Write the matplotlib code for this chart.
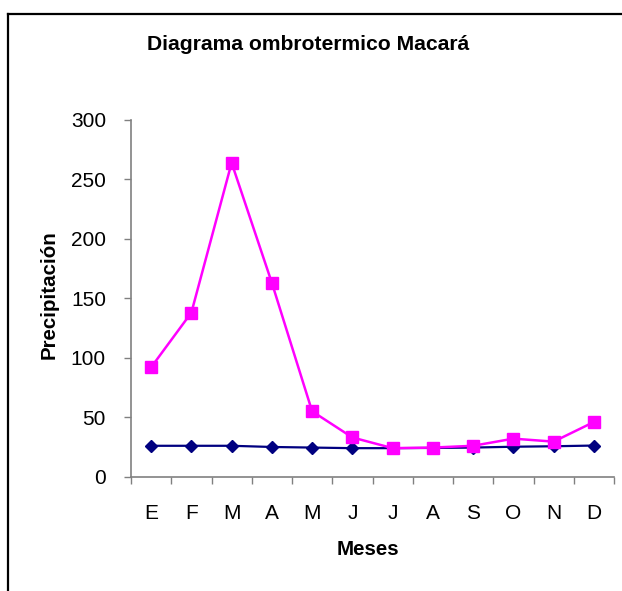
import matplotlib
matplotlib.use("Agg")
import matplotlib.pyplot as plt
from matplotlib.lines import Line2D
import numpy as np

plt.rcParams["font.family"] = ["Liberation Sans", "DejaVu Sans"]

MESES = ["E", "F", "M", "A", "M", "J", "J", "A", "S", "O", "N", "D"]
PRECIPITACION = [92, 138, 264, 163, 55, 33, 24, 24.5, 26, 32, 29.5, 46]
TEMPERATURA = [26, 26, 26, 25, 24.5, 24, 24, 24.2, 24.5, 25.2, 25.6, 26.2]

W, H, DPI = 622, 591, 100
AXIS_GREY = "#808080"

fig = plt.figure(figsize=(W / DPI, H / DPI), dpi=DPI)
ax = fig.add_axes([131 / W, 1 - 476.7 / H, (614 - 131) / W, (476.7 - 120) / H])

xs = np.arange(len(MESES))
ax.plot(xs, TEMPERATURA, color="#000080", lw=1.6, marker="D", ms=6.5,
        mec="#000080", mfc="#000080", zorder=3)
ax.plot(xs, PRECIPITACION, color="#FF00FF", lw=1.8, marker="s", ms=8.5,
        mec="#FF00FF", mfc="#FF00FF", zorder=4)

ax.set_xlim(-0.5, len(MESES) - 0.5)
ax.set_ylim(0, 300)
ax.set_yticks(np.arange(0, 301, 50))

# category labels in the middle, tick marks on the boundaries
ax.set_xticks(xs)
ax.set_xticklabels(MESES)
ax.set_xticks(np.arange(-0.5, len(MESES)), minor=True)
ax.tick_params(axis="x", which="major", length=0, pad=20, labelsize=15)
ax.tick_params(axis="x", which="minor", length=5, width=1, color=AXIS_GREY,
               direction="out")
ax.tick_params(axis="y", length=5, width=1, color=AXIS_GREY, pad=13,
               labelsize=15)

for s in ("top", "right"):
    ax.spines[s].set_visible(False)
for s in ("left", "bottom"):
    ax.spines[s].set_color(AXIS_GREY)
    ax.spines[s].set_linewidth(1.2)

ax.set_xlabel("Meses", fontsize=14.8, fontweight="bold", va="center")
ax.xaxis.set_label_coords(0.49, -0.203)
ax.set_ylabel("Precipitación", fontsize=14.8, fontweight="bold", va="center")
ax.yaxis.set_label_coords(-0.17, 0.51)

fig.text(308.5 / W, 1 - 45 / H, "Diagrama ombrotermico Macará", fontsize=15.2,
         fontweight="bold", ha="center", va="center")

# chart frame (cut off at the right and bottom)
fig.add_artist(Line2D([8 / W, 1], [1 - 14 / H] * 2, color="black", lw=1.6,
                      transform=fig.transFigure))
fig.add_artist(Line2D([8 / W] * 2, [0, 1 - 14 / H], color="black", lw=1.6,
                      transform=fig.transFigure))

fig.savefig("out.png", dpi=DPI)
